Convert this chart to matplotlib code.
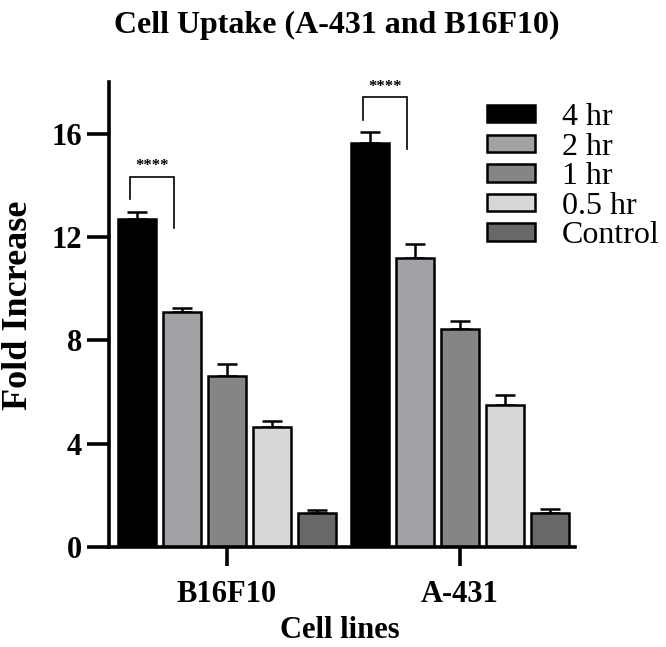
import matplotlib
matplotlib.use("Agg")
import matplotlib.pyplot as plt
import numpy as np

# data
cell_lines = ["B16F10", "A-431"]
series = ["4 hr", "2 hr", "1 hr", "0.5 hr", "Control"]
means = {
    "4 hr":    [12.70, 15.65],
    "2 hr":    [9.10, 11.18],
    "1 hr":    [6.61, 8.43],
    "0.5 hr":  [4.63, 5.51],
    "Control": [1.31, 1.31],
}
errors = {
    "4 hr":    [0.28, 0.41],
    "2 hr":    [0.17, 0.55],
    "1 hr":    [0.46, 0.32],
    "0.5 hr":  [0.24, 0.39],
    "Control": [0.13, 0.15],
}
colors = ["#000000", "#a2a2a6", "#858585", "#d7d7d7", "#686868"]
sig_label = "****"

plt.rcParams["font.family"] = ["Liberation Serif", "DejaVu Serif"]


def main():
    fig = plt.figure(figsize=(6.66, 6.47), dpi=100)
    ax = fig.add_axes([109 / 666, 1 - 547 / 647, 466 / 666, 465 / 647])

    x = np.arange(len(cell_lines))
    step = 0.193
    width = 0.165
    for i, (name, col) in enumerate(zip(series, colors)):
        pos = x + (i - 2) * step
        err = np.array(errors[name])
        ax.bar(pos, means[name], width, color=col, edgecolor="black",
               linewidth=1.8, label=name, zorder=2)
        ax.errorbar(pos, means[name], yerr=[np.zeros_like(err), err],
                    fmt="none", ecolor="black", elinewidth=1.8,
                    capsize=7, capthick=1.8, zorder=1)

    # significance brackets between 4 hr and 2 hr
    for g in range(len(cell_lines)):
        x0 = x[g] - 2 * step - 0.03
        x1 = x[g] - step - 0.035
        top = means["4 hr"][g] + errors["4 hr"][g] + 1.35
        ax.plot([x0, x0, x1, x1], [top - 0.87, top, top, top - 2.0],
                color="black", lw=1.2, solid_joinstyle="miter")
        ax.text((x0 + x1) / 2, top + 0.1, sig_label, ha="center",
                va="bottom", fontsize=12, fontweight="bold")

    ax.set_xlim(-0.505, 1.493)
    ax.set_ylim(0, 18)
    ax.set_yticks([0, 4, 8, 12, 16])
    ax.set_xticks(x)
    ax.set_xticklabels(cell_lines)
    for s in ["top", "right"]:
        ax.spines[s].set_visible(False)
    for s in ["left", "bottom"]:
        ax.spines[s].set_linewidth(2.6)
    ax.tick_params(axis="y", length=16, width=2.6, pad=3.5, labelsize=22)
    ax.tick_params(axis="x", length=14, width=2.6, pad=10, labelsize=22)
    for lab in ax.get_xticklabels() + ax.get_yticklabels():
        lab.set_fontweight("bold")

    ax.set_ylabel("Fold Increase", fontsize=26, fontweight="bold")
    ax.yaxis.set_label_coords(-0.158, 0.52)
    ax.set_xlabel("Cell lines", fontsize=22, fontweight="bold")
    ax.xaxis.set_label_coords(0.496, -0.148)

    ax.legend(loc="upper left", bbox_to_anchor=(0.811, 0.955), frameon=False,
              fontsize=23, handlelength=1.5, handleheight=0.46,
              handletextpad=0.85, labelspacing=0.02, borderpad=0,
              borderaxespad=0)

    fig.text(0.505, 1 - 33 / 647, "Cell Uptake (A-431 and B16F10)",
             ha="center", va="baseline", fontsize=23, fontweight="bold")

    fig.savefig("out.png", dpi=100)


if __name__ == "__main__":
    main()
